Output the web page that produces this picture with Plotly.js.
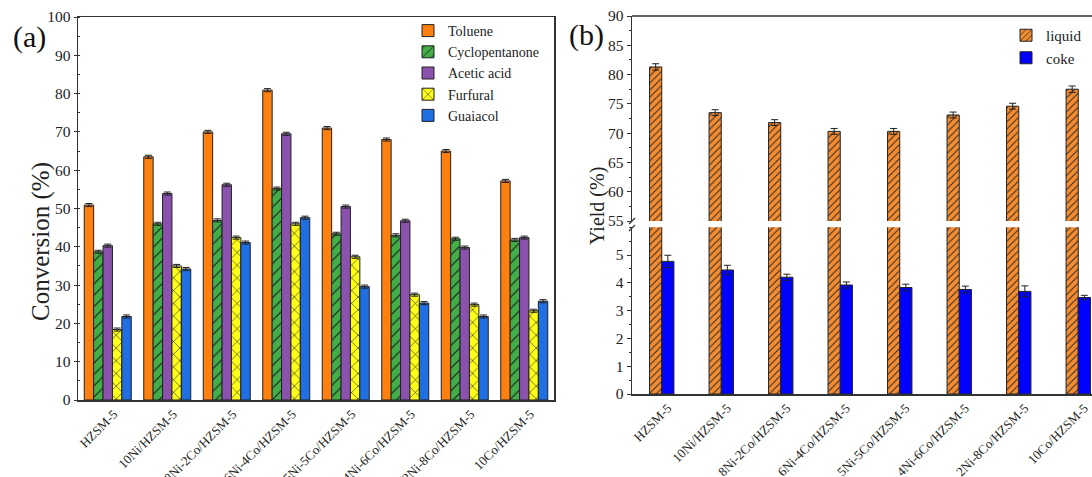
<!DOCTYPE html>
<html>
<head>
<meta charset="utf-8">
<script src="https://cdn.plot.ly/plotly-3.0.1.min.js"></script>
<style>
  html, body { margin: 0; padding: 0; overflow: hidden; background: #fff; }
  #chart { width: 1110px; height: 477px; }
</style>
</head>
<body>
<div id="chart"></div>
<script>
// ---------- data ----------
const categories = ['HZSM-5', '10Ni/HZSM-5', '8Ni-2Co/HZSM-5', '6Ni-4Co/HZSM-5',
                    '5Ni-5Co/HZSM-5', '4Ni-6Co/HZSM-5', '2Ni-8Co/HZSM-5', '10Co/HZSM-5'];

const toluene        = [50.9, 63.5, 70.0, 80.9, 71.0, 68.0, 65.0, 57.2];
const cyclopentanone = [38.7, 46.0, 46.9, 55.2, 43.4, 43.0, 42.1, 41.8];
const aceticAcid     = [40.3, 53.9, 56.2, 69.5, 50.5, 46.8, 39.8, 42.4];
const furfural       = [18.4, 35.0, 42.4, 46.0, 37.4, 27.5, 24.9, 23.3];
const guaiacol       = [21.8, 34.2, 41.1, 47.6, 29.6, 25.3, 21.8, 25.8];
const convErr        = [0.4, 0.4, 0.4, 0.4, 0.4, 0.4, 0.4, 0.4];

const liquid    = [81.3, 73.5, 71.8, 70.3, 70.3, 73.1, 74.6, 77.5];
const liquidErr = [0.55, 0.5, 0.5, 0.5, 0.5, 0.5, 0.5, 0.55];
const coke      = [4.77, 4.46, 4.20, 3.92, 3.83, 3.76, 3.69, 3.47];
const cokeErr   = [0.22, 0.17, 0.11, 0.11, 0.12, 0.12, 0.2, 0.08];

const convTicks  = [0, 10, 20, 30, 40, 50, 60, 70, 80, 90, 100];
const upperTicks = [55, 60, 65, 70, 75, 80, 85, 90];
const lowerTicks = [0, 1, 2, 3, 4, 5];

// ---------- geometry helpers ----------
const W = 1110, H = 477;
const px = v => v / W;
const py = v => 1 - v / H;
const SERIF = "'Liberation Serif', 'Times New Roman', Times, serif";
const AX = '#333';

function errBar(arr) {
  return { type: 'data', array: arr, visible: true, color: '#222', thickness: 1, width: 3.5 };
}
function convBar(name, y, color, shape) {
  return {
    type: 'bar', name: name, x: categories, y: y, xaxis: 'x', yaxis: 'y',
    legend: 'legend',
    marker: {
      color: color,
      line: { color: '#222', width: 1 },
      pattern: shape ? { shape: shape, fgcolor: '#111', bgcolor: color, size: shape === 'x' ? 9 : 8, solidity: 0.12 } : undefined
    },
    error_y: errBar(convErr)
  };
}

const C_TOL = '#ff7f0f', C_CYC = '#43ad47', C_ACE = '#8a51ad', C_FUR = '#ffff1a', C_GUA = '#1f6ee2';
const C_LIQ = '#f48c31', C_COKE = '#0000ff';
const BW = 0.205;

const traces = [
  convBar('Toluene', toluene, C_TOL, ''),
  convBar('Cyclopentanone', cyclopentanone, C_CYC, '/'),
  convBar('Acetic acid', aceticAcid, C_ACE, ''),
  convBar('Furfural', furfural, C_FUR, 'x'),
  convBar('Guaiacol', guaiacol, C_GUA, ''),
  {
    type: 'bar', name: 'liquid', x: categories, y: liquid, xaxis: 'x2', yaxis: 'y2',
    legend: 'legend2', width: BW, offset: -BW,
    marker: { color: C_LIQ, line: { color: '#222', width: 1 },
      pattern: { shape: '/', fgcolor: '#222', bgcolor: C_LIQ, size: 5, solidity: 0.18 } },
    error_y: errBar(liquidErr)
  },
  {
    type: 'bar', name: 'liquid', x: categories, y: liquid, xaxis: 'x2', yaxis: 'y3',
    showlegend: false, width: BW, offset: -BW,
    marker: { color: C_LIQ, line: { color: '#222', width: 1 },
      pattern: { shape: '/', fgcolor: '#222', bgcolor: C_LIQ, size: 5, solidity: 0.18 } }
  },
  {
    type: 'bar', name: 'coke', x: categories, y: coke, xaxis: 'x2', yaxis: 'y3',
    legend: 'legend2', width: BW, offset: 0,
    marker: { color: C_COKE, line: { color: '#222', width: 1 } },
    error_y: errBar(cokeErr)
  }
];

const tickFont = { family: SERIF, size: 15.5, color: '#222' };
const catFont = { family: SERIF, size: 13, color: '#222' };

const layout = {
  width: W, height: H,
  margin: { l: 0, r: 0, t: 0, b: 0 },
  paper_bgcolor: '#fff', plot_bgcolor: '#fff',
  barmode: 'group', bargap: 0.21, bargroupgap: 0,
  font: { family: SERIF, color: '#222' },
  showlegend: true,
  xaxis: {
    domain: [px(78), px(554)], anchor: 'y', range: [-0.5, 7.5],
    showline: true, mirror: true, linecolor: AX, linewidth: 1.5,
    ticks: '', tickangle: -45, tickfont: catFont, ticklabelshift: 6,
    showgrid: false, zeroline: false
  },
  yaxis: {
    domain: [1 - 400 / H, 1 - 17 / H], anchor: 'x', range: [0, 100],
    tickvals: convTicks, ticks: 'outside', ticklen: 3, tickcolor: AX,
    minor: { dtick: 5, ticks: 'inside', ticklen: 2, tickcolor: AX },
    showline: true, mirror: true, linecolor: AX, linewidth: 1.5,
    tickfont: tickFont, showgrid: false, zeroline: false
  },
  xaxis2: {
    domain: [px(632), px(1108)], anchor: 'y3', range: [-0.5, 7.5],
    showline: true, linecolor: AX, linewidth: 1.5,
    ticks: '', tickangle: -45, tickfont: catFont, ticklabelshift: 6,
    showgrid: false, zeroline: false
  },
  yaxis2: {
    domain: [1 - 221 / H, 1 - 16 / H], anchor: 'x2', range: [55, 90],
    tickvals: upperTicks, ticks: 'outside', ticklen: 4, tickcolor: AX,
    minor: { dtick: 2.5, ticks: 'outside', ticklen: 2, tickcolor: AX },
    showline: true, linecolor: AX, linewidth: 1.5,
    tickfont: tickFont, showgrid: false, zeroline: false
  },
  yaxis3: {
    domain: [1 - 394 / H, 1 - 227.2 / H], anchor: 'x2', range: [0, 6],
    tickvals: lowerTicks, ticks: 'outside', ticklen: 4, tickcolor: AX,
    minor: { dtick: 0.5, ticks: 'outside', ticklen: 2, tickcolor: AX },
    showline: true, linecolor: AX, linewidth: 1.5,
    tickfont: tickFont, showgrid: false, zeroline: false
  },
  legend: {
    x: px(408), y: py(15), xanchor: 'left', yanchor: 'top',
    font: { family: SERIF, size: 14, color: '#222' },
    bgcolor: 'rgba(0,0,0,0)', borderwidth: 0, traceorder: 'normal', tracegroupgap: 0
  },
  legend2: {
    x: px(1006), y: py(19), xanchor: 'left', yanchor: 'top',
    font: { family: SERIF, size: 15, color: '#222' },
    bgcolor: 'rgba(0,0,0,0)', borderwidth: 0, traceorder: 'normal'
  },
  shapes: [
    // top frame line of panel (b)
    { type: 'line', xref: 'paper', yref: 'paper', x0: px(632), x1: 1, y0: py(16), y1: py(16),
      line: { color: AX, width: 1.5 } },
    // axis break marks
    { type: 'line', xref: 'paper', yref: 'paper', x0: px(629), x1: px(635), y0: py(224), y1: py(218),
      line: { color: AX, width: 1.2 } },
    { type: 'line', xref: 'paper', yref: 'paper', x0: px(629), x1: px(635), y0: py(231), y1: py(225),
      line: { color: AX, width: 1.2 } }
  ],
  annotations: [
    { text: '(a)', xref: 'paper', yref: 'paper', x: px(29), y: py(37), xanchor: 'center', yanchor: 'middle',
      showarrow: false, font: { family: SERIF, size: 30, color: '#111' } },
    { text: '(b)', xref: 'paper', yref: 'paper', x: px(586), y: py(35), xanchor: 'center', yanchor: 'middle',
      showarrow: false, font: { family: SERIF, size: 30, color: '#111' } },
    { text: 'Conversion (%)', xref: 'paper', yref: 'paper', x: px(41), y: py(242), textangle: -90,
      xanchor: 'center', yanchor: 'middle',
      showarrow: false, font: { family: SERIF, size: 25, color: '#222' } },
    { text: 'Yield (%)', xref: 'paper', yref: 'paper', x: px(597), y: py(206), textangle: -90,
      xanchor: 'center', yanchor: 'middle',
      showarrow: false, font: { family: SERIF, size: 20, color: '#222' } }
  ]
};

Plotly.newPlot('chart', traces, layout, { displayModeBar: false, staticPlot: true });
</script>
</body>
</html>
